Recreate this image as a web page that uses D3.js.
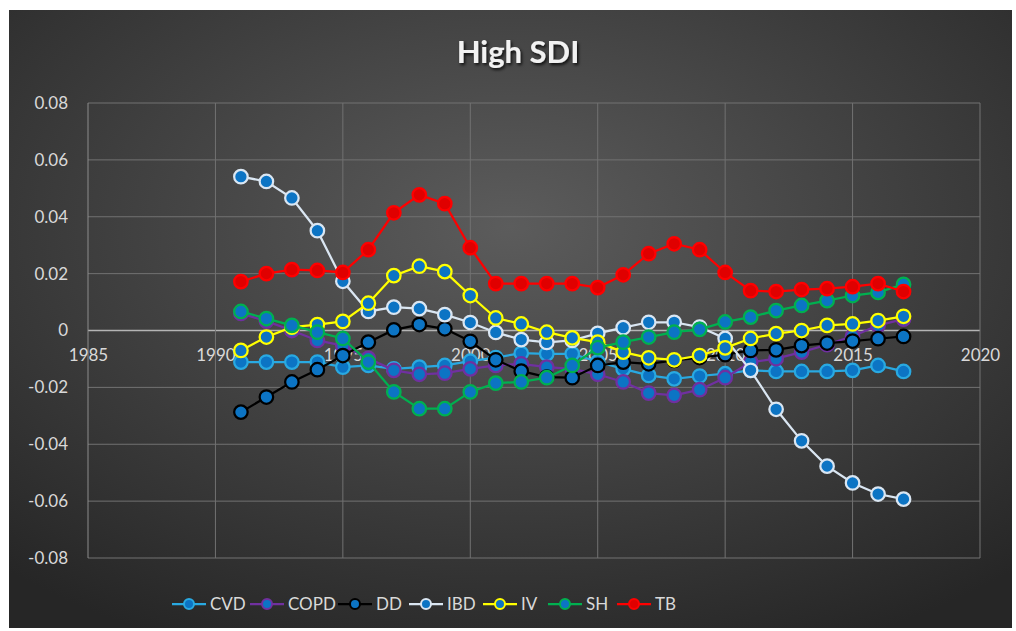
<!DOCTYPE html>
<html>
<head>
<meta charset="utf-8">
<script src="https://cdn.jsdelivr.net/npm/d3@7"></script>
<style>
  html, body { margin: 0; padding: 0; background: #fff; }
  svg { display: block; }
</style>
</head>
<body>
<div id="chart"></div>
<script>
var years = d3.range(1991, 2018);
var seriesNames = ['CVD', 'COPD', 'DD', 'IBD', 'IV', 'SH', 'TB'];
var xTicks = [1985, 1990, 1995, 2000, 2005, 2010, 2015, 2020];
var yTicks = [-0.08, -0.06, -0.04, -0.02, 0, 0.02, 0.04, 0.06, 0.08];

var CVD  = [-0.0111, -0.0111, -0.0111, -0.0111, -0.0129, -0.0123, -0.0135, -0.0129, -0.0123, -0.0108, -0.0095, -0.0080, -0.0082, -0.0082, -0.0110, -0.0135, -0.0158, -0.0170, -0.0160, -0.0152, -0.0140, -0.0144, -0.0144, -0.0144, -0.0140, -0.0123, -0.0144];
var COPD = [0.0060, 0.0033, 0.0000, -0.0035, -0.0053, -0.0098, -0.0140, -0.0154, -0.0150, -0.0135, -0.0123, -0.0117, -0.0129, -0.0135, -0.0154, -0.0181, -0.0220, -0.0228, -0.0208, -0.0166, -0.0111, -0.0099, -0.0076, -0.0050, -0.0020, 0.0018, 0.0040];
var DD   = [-0.0287, -0.0234, -0.0181, -0.0138, -0.0088, -0.0041, 0.0002, 0.0021, 0.0006, -0.0038, -0.0103, -0.0143, -0.0164, -0.0166, -0.0123, -0.0111, -0.0117, -0.0105, -0.0095, -0.0085, -0.0070, -0.0068, -0.0053, -0.0044, -0.0037, -0.0029, -0.0021];
var IBD  = [0.0541, 0.0524, 0.0466, 0.0351, 0.0173, 0.0067, 0.0082, 0.0077, 0.0056, 0.0028, -0.0007, -0.0032, -0.0042, -0.0035, -0.0010, 0.0010, 0.0029, 0.0029, 0.0012, -0.0028, -0.0140, -0.0277, -0.0388, -0.0477, -0.0536, -0.0575, -0.0593];
var IV   = [-0.0070, -0.0023, 0.0012, 0.0021, 0.0032, 0.0096, 0.0193, 0.0226, 0.0207, 0.0123, 0.0044, 0.0023, -0.0006, -0.0026, -0.0041, -0.0076, -0.0096, -0.0103, -0.0088, -0.0061, -0.0028, -0.0011, 0.0000, 0.0018, 0.0023, 0.0035, 0.0050];
var SH   = [0.0067, 0.0042, 0.0018, -0.0006, -0.0028, -0.0111, -0.0216, -0.0275, -0.0275, -0.0216, -0.0185, -0.0181, -0.0166, -0.0123, -0.0060, -0.0041, -0.0023, -0.0006, 0.0004, 0.0030, 0.0047, 0.0070, 0.0088, 0.0105, 0.0123, 0.0134, 0.0162];
var TB   = [0.0172, 0.0200, 0.0214, 0.0211, 0.0204, 0.0284, 0.0414, 0.0477, 0.0446, 0.0291, 0.0165, 0.0165, 0.0165, 0.0165, 0.0151, 0.0196, 0.0270, 0.0305, 0.0284, 0.0204, 0.0140, 0.0137, 0.0144, 0.0147, 0.0154, 0.0165, 0.0137];

var lineColors = ['#29a9e1', '#7030a0', '#000000', '#dae6f2', '#ffff00', '#00b050', '#ff0000'];
var markerFill = ['#0c74c4', '#0c74c4', '#0c74c4', '#0c74c4', '#0c74c4', '#0c74c4', '#e00000'];

var values = [CVD, COPD, DD, IBD, IV, SH, TB];
var series = seriesNames.map(function(name, i){
  return {
    name: name,
    color: lineColors[i],
    fill: markerFill[i],
    points: years.map(function(y, j){ return { year: y, value: values[i][j] }; })
  };
});

var W = 1016, H = 631;
var svg = d3.select('#chart').append('svg').attr('width', W).attr('height', H);

var defs = svg.append('defs');
var grad = defs.append('radialGradient')
  .attr('id', 'bg').attr('cx', '50%').attr('cy', '35%').attr('r', '75%');
grad.append('stop').attr('offset', '0%').attr('stop-color', '#5c5c5c');
grad.append('stop').attr('offset', '100%').attr('stop-color', '#262626');

var shadow = defs.append('filter').attr('id', 'shadow').attr('x', '-20%').attr('y', '-20%').attr('width', '140%').attr('height', '160%');
shadow.append('feDropShadow').attr('dx', 1.5).attr('dy', 2).attr('stdDeviation', 1.5).attr('flood-color', '#000').attr('flood-opacity', 0.8);

svg.append('rect').attr('x', 9).attr('y', 10).attr('width', 1003).attr('height', 618).attr('fill', 'url(#bg)');

var margin = { left: 88, right: 980, top: 103, bottom: 558 };
var x = d3.scaleLinear().domain([1985, 2020]).range([margin.left, margin.right]);
var y = d3.scaleLinear().domain([-0.08, 0.08]).range([margin.bottom, margin.top]);

var font = 'Lato, "Open Sans", sans-serif';

// grid
svg.append('g').selectAll('line.h').data(yTicks).enter().append('line')
  .attr('x1', margin.left).attr('x2', margin.right)
  .attr('y1', function(d){ return y(d); }).attr('y2', function(d){ return y(d); })
  .attr('stroke', function(d){ return d === 0 ? '#b4b4b4' : '#727272'; })
  .attr('stroke-width', function(d){ return d === 0 ? 1.5 : 1; });

svg.append('g').selectAll('line.v').data(xTicks).enter().append('line')
  .attr('y1', margin.top).attr('y2', margin.bottom)
  .attr('x1', function(d){ return x(d); }).attr('x2', function(d){ return x(d); })
  .attr('stroke', function(d){ return d === 1985 ? '#8c8c8c' : '#727272'; })
  .attr('stroke-width', 1);

// axes labels (excel style hyphen minus)
var yAxis = d3.axisLeft(y).tickValues(yTicks).tickSize(0).tickPadding(20)
  .tickFormat(function(d){ return d === 0 ? '0' : d3.format('.2f')(d).replace('\u2212', '-'); });
var gy = svg.append('g').attr('transform', 'translate(' + margin.left + ',0)').call(yAxis);
gy.select('.domain').remove();
gy.selectAll('text').attr('fill', '#d9d9d9').style('font-family', font).style('font-size', '17px');

var xAxis = d3.axisBottom(x).tickValues(xTicks).tickSize(0).tickPadding(18).tickFormat(d3.format('d'));
var gx = svg.append('g').attr('transform', 'translate(0,' + y(0) + ')').call(xAxis);
gx.select('.domain').remove();
gx.selectAll('text').attr('fill', '#d9d9d9').style('font-family', font).style('font-size', '17px');

// series
var line = d3.line().x(function(d){ return x(d.year); }).y(function(d){ return y(d.value); });

series.forEach(function(s){
  var g = svg.append('g');
  g.append('path').datum(s.points)
    .attr('d', line)
    .attr('fill', 'none')
    .attr('stroke', s.color)
    .attr('stroke-width', 2.25);
  g.selectAll('circle').data(s.points).enter().append('circle')
    .attr('cx', function(d){ return x(d.year); })
    .attr('cy', function(d){ return y(d.value); })
    .attr('r', 6.75)
    .attr('fill', s.fill)
    .attr('stroke', s.color)
    .attr('stroke-width', 2.25);
});

// title
svg.append('text')
  .attr('x', 518).attr('y', 63)
  .attr('text-anchor', 'middle')
  .attr('fill', '#f2f2f2')
  .attr('filter', 'url(#shadow)')
  .style('font-family', font).style('font-weight', 'bold').style('font-size', '31px')
  .text('High SDI');

// legend
var legendX = [172, 250, 338, 409, 483, 548, 617];
var leg = svg.append('g').selectAll('g').data(series).enter().append('g')
  .attr('transform', function(d, i){ return 'translate(' + legendX[i] + ',604)'; });
leg.append('line').attr('x1', 0).attr('x2', 34).attr('y1', 0).attr('y2', 0)
  .attr('stroke', function(d){ return d.color; }).attr('stroke-width', 2.25);
leg.append('circle').attr('cx', 17).attr('cy', 0).attr('r', 5)
  .attr('fill', function(d){ return d.fill; })
  .attr('stroke', function(d){ return d.color; }).attr('stroke-width', 2);
leg.append('text').attr('x', 38).attr('y', 6)
  .attr('fill', '#d9d9d9')
  .style('font-family', font).style('font-size', '17px')
  .text(function(d){ return d.name; });
</script>
</body>
</html>
